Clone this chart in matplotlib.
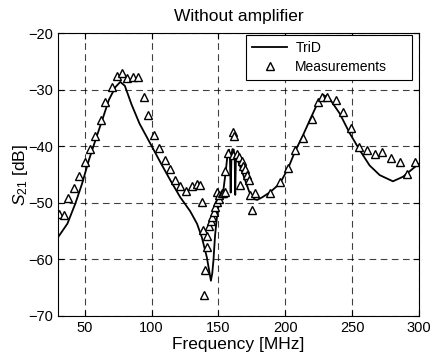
import numpy as np
import matplotlib
matplotlib.use("Agg")
import matplotlib.pyplot as plt

plt.rcParams['font.family'] = ['Liberation Sans', 'DejaVu Sans']
plt.rcParams['mathtext.fontset'] = 'custom'
plt.rcParams['mathtext.rm'] = 'Liberation Sans'
plt.rcParams['mathtext.it'] = 'Liberation Sans:italic'

# TriD simulation curve
trid_f = [30, 37, 43, 48, 53, 58, 63, 68, 73, 76.6, 80, 85, 91, 99, 106.5,
          114, 121.4, 128.9, 134, 137.6, 141.3, 143.3, 144.4, 145.4, 146.3,
          147.5, 149.3, 151.3, 153.7, 155.5, 156.8, 158, 158.6, 159.2, 159.8,
          160.5, 161.5, 162.2, 162.6, 163.1, 164.5, 167, 170, 173, 176, 179,
          183, 188.8, 196, 202.2, 207.2, 213.4, 219.7, 225, 228.4, 233,
          240.8, 248.3, 255.8, 263.2, 270.7, 280.6, 288.1, 294.3, 300]
trid_db = [-56.1, -53.7, -50.1, -46.6, -42.5, -38.9, -35.4, -31.8, -29.5,
           -28.6, -29.3, -32.6, -36.0, -39.5, -42.8, -46.0, -49.0, -51.5,
           -53.7, -56.1, -59.6, -62.3, -63.8, -62.5, -60.2, -55.8, -51.6,
           -49.2, -47.8, -44.5, -41.5, -40.6, -41.5, -48.2, -41.5, -40.5,
           -40.6, -42.0, -48.6, -42.0, -42.5, -44.0, -46.0, -48.0, -49.3,
           -49.5, -49.0, -48.1, -46.6, -43.9, -41.0, -38.0, -34.7, -32.0,
           -30.9, -31.5, -34.2, -37.7, -40.7, -43.4, -45.1, -46.2, -45.4,
           -44.2, -43.1]

# Measured points
meas_f = [31, 34.3, 37.6, 41.8, 45.5, 50.0, 53.7, 58.0, 61.9, 65.4, 70.4,
          73.8, 77.8, 81.6, 86.0, 90.2, 94.0, 97.5, 101.5, 105.8, 109.7,
          113.8, 117.7, 121.4, 125.9, 130.1, 133.9, 136.3, 137.6, 138.8,
          139.3, 140.1, 141.3, 141.5, 143.0, 144.3, 145.5, 146.8, 147.5,
          148.8, 149.0, 150.3, 150.7, 152.5, 153.7, 155.2, 155.2, 157.2,
          160.6, 161.9, 160.7, 163.7, 165.2, 167.5, 168.7, 169.9, 171.4,
          172.7, 166.4, 173.9, 175.5, 177.6, 188.8, 195.8, 202.0, 207.2,
          213.4, 219.7, 224.7, 227.2, 231.0, 237.8, 243.0, 249.0, 255.2,
          261.0, 267.5, 272.8, 279.3, 285.6, 290.8, 297.5]
meas_db = [-52.0, -52.2, -49.2, -47.3, -45.3, -42.7, -40.5, -38.2, -35.4,
           -32.1, -29.5, -27.6, -27.1, -28.0, -27.8, -27.8, -31.2, -34.5,
           -38.0, -40.3, -42.4, -44.1, -46.0, -47.1, -47.9, -47.1, -46.6,
           -46.8, -49.8, -54.8, -66.4, -61.9, -57.9, -55.8, -54.2, -53.3,
           -52.5, -51.6, -50.7, -49.9, -48.1, -49.3, -48.6, -48.2, -48.2,
           -48.1, -44.3, -41.2, -37.5, -38.2, -41.5, -41.3, -41.9, -42.6,
           -43.5, -44.0, -45.1, -45.9, -46.8, -48.6, -51.3, -48.3, -48.3,
           -46.3, -43.9, -40.6, -38.5, -35.1, -32.2, -31.2, -31.2, -31.8,
           -34.0, -36.8, -40.1, -40.6, -41.4, -41.1, -42.0, -42.8, -44.9,
           -42.8]

xticks = [50, 100, 150, 200, 250, 300]
yticks = [-70, -60, -50, -40, -30, -20]

fig = plt.figure(figsize=(4.30, 3.58), dpi=100)
ax = fig.add_axes([0.135, 0.118, 0.839, 0.789])

ax.plot(trid_f, trid_db, color='black', lw=1.3, label='TriD')
ax.plot(meas_f, meas_db, linestyle='none', marker='^', markersize=6,
        markerfacecolor='white', markeredgecolor='black', markeredgewidth=1.0,
        label='Measurements')

ax.set_xlim(30, 300)
ax.set_ylim(-70, -20)
ax.set_xticks(xticks)
ax.set_yticks(yticks)
ax.tick_params(direction='in', top=True, right=True, labelsize=10.5,
               length=4, width=0.8)
ax.grid(True, color='black', linestyle=(0, (6, 4)), linewidth=0.8, alpha=0.75)
ax.set_axisbelow(True)
for s in ax.spines.values():
    s.set_linewidth(0.8)

ax.set_title('Without amplifier', fontsize=12.5, pad=9)
ax.set_xlabel('Frequency [MHz]', fontsize=12.5, labelpad=2)
ax.set_ylabel(r'$S_{21}$ [dB]', fontsize=12.5, labelpad=-1)

leg = ax.legend(loc='upper left', bbox_to_anchor=(0.521, 0.832, 0.46, 0.162),
                mode='expand', borderaxespad=0, fontsize=10, fancybox=False,
                framealpha=1, edgecolor='black', handlelength=2.5,
                handletextpad=0.6, borderpad=0.45, labelspacing=0.35)
leg.get_frame().set_linewidth(0.8)

fig.savefig('out.png', dpi=100)
